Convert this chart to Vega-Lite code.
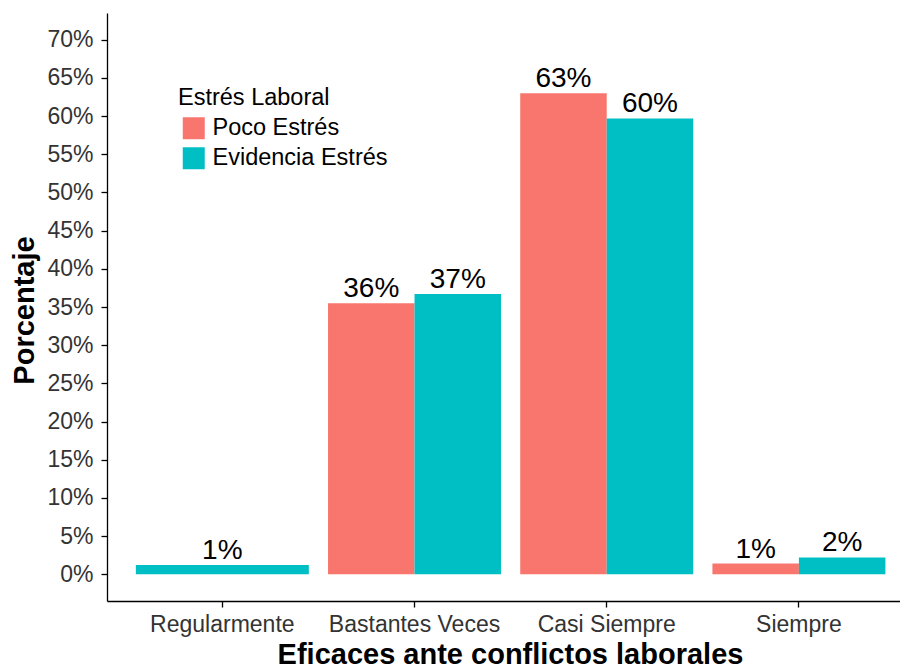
{
  "$schema": "https://vega.github.io/schema/vega-lite/v6.json",
  "width": 793,
  "height": 588,
  "autosize": {"type": "none"},
  "padding": {"left": 107, "top": 13, "right": 0, "bottom": 69},
  "background": "white",
  "config": {
    "font": "Liberation Sans",
    "view": {"stroke": null},
    "axis": {"grid": false, "domainColor": "black", "tickColor": "black", "domainWidth": 1.3, "tickWidth": 1.3, "labelColor": "#333333", "titleColor": "black", "labelFont": "Liberation Sans", "titleFont": "Liberation Sans"}
  },
  "data": {
    "values": [
      {"cat": "Regularmente", "grp": "Evidencia Estrés", "v": 0.012},
      {"cat": "Bastantes Veces", "grp": "Poco Estrés", "v": 0.355},
      {"cat": "Bastantes Veces", "grp": "Evidencia Estrés", "v": 0.367},
      {"cat": "Casi Siempre", "grp": "Poco Estrés", "v": 0.630},
      {"cat": "Casi Siempre", "grp": "Evidencia Estrés", "v": 0.597},
      {"cat": "Siempre", "grp": "Poco Estrés", "v": 0.014},
      {"cat": "Siempre", "grp": "Evidencia Estrés", "v": 0.022}
    ]
  },
  "encoding": {
    "x": {
      "field": "cat", "type": "nominal", "sort": ["Regularmente", "Bastantes Veces", "Casi Siempre", "Siempre"],
      "scale": {"type": "band", "paddingInner": 0.1, "paddingOuter": 0.113, "align": 0.664},
      "axis": {"title": "Eficaces ante conflictos laborales", "labelAngle": 0, "labelFontSize": 23, "tickSize": 6, "labelPadding": 6,
               "titleFontSize": 29, "titleFontWeight": "bold", "titleX": 403, "titleY": 62, "titleBaseline": "alphabetic", "titleAlign": "center"}
    },
    "y": {
      "field": "v", "type": "quantitative",
      "scale": {"domain": [-0.035, 0.735], "nice": false, "zero": false},
      "axis": {"title": "Porcentaje", "format": ".0%", "values": [0, 0.05, 0.1, 0.15, 0.2, 0.25, 0.3, 0.35, 0.4, 0.45, 0.5, 0.55, 0.6, 0.65, 0.7],
               "labelFontSize": 23, "tickSize": 6, "labelPadding": 8,
               "titleFontSize": 29, "titleFontWeight": "bold", "titleAngle": 270, "titleX": -74, "titleY": 297, "titleBaseline": "alphabetic", "titleAlign": "center"}
    },
    "color": {
      "field": "grp", "type": "nominal",
      "scale": {"domain": ["Poco Estrés", "Evidencia Estrés"], "range": ["#F8766D", "#00BFC4"]},
      "legend": {"title": "Estrés Laboral", "orient": "none", "legendX": 71, "legendY": 73, "padding": 0,
                 "titleFontSize": 23.5, "titleFontWeight": "normal", "titleColor": "black", "labelFontSize": 23.5, "labelColor": "black",
                 "labelLimit": 0, "titleLimit": 0,
                 "symbolType": "square", "symbolSize": 484, "symbolStrokeWidth": 0, "symbolOffset": 4, "labelOffset": 7,
                 "titlePadding": 7, "rowPadding": 5}
    }
  },
  "layer": [
    {
      "transform": [{"filter": "datum.cat != 'Regularmente'"}],
      "mark": {"type": "bar"},
      "encoding": {
        "xOffset": {"field": "grp", "type": "nominal", "sort": ["Poco Estrés", "Evidencia Estrés"], "scale": {"paddingInner": 0, "paddingOuter": 0}},
        "y2": {"datum": 0}
      }
    },
    {
      "transform": [{"filter": "datum.cat == 'Regularmente'"}],
      "mark": {"type": "bar"},
      "encoding": {"y2": {"datum": 0}}
    },
    {
      "transform": [{"filter": "datum.cat != 'Regularmente'"}],
      "mark": {"type": "text", "fontSize": 28, "dy": -6, "baseline": "alphabetic", "color": "black"},
      "encoding": {
        "xOffset": {"field": "grp", "type": "nominal", "sort": ["Poco Estrés", "Evidencia Estrés"]},
        "text": {"field": "v", "type": "quantitative", "format": ".0%"},
        "color": {"value": "black"}
      }
    },
    {
      "transform": [{"filter": "datum.cat == 'Regularmente'"}],
      "mark": {"type": "text", "fontSize": 28, "dy": -6, "baseline": "alphabetic", "color": "black"},
      "encoding": {
        "text": {"field": "v", "type": "quantitative", "format": ".0%"},
        "color": {"value": "black"}
      }
    }
  ]
}
